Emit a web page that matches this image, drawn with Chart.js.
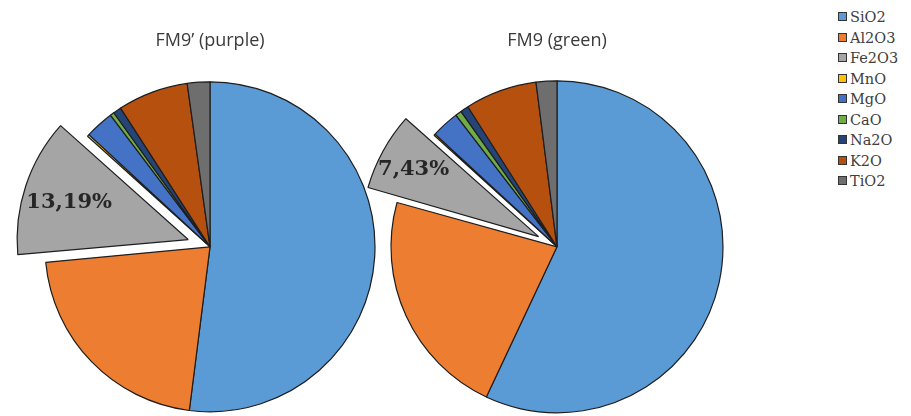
<!DOCTYPE html>
<html>
<head>
<meta charset="utf-8">
<script src="https://cdn.jsdelivr.net/npm/chart.js@4.4.1/dist/chart.umd.min.js"></script>
<style>
  html, body { margin: 0; padding: 0; background: #fff; overflow: hidden; }
  #stage { position: relative; width: 911px; height: 416px; overflow: hidden; }
  .pie-box { position: absolute; top: 0; }
  #legend { position: absolute; left: 838px; top: 7px; margin: 0; padding: 0; list-style: none;
    font-family: "DejaVu Serif", serif; font-size: 14.5px; color: #404040; }
  #legend li { height: 20.5px; line-height: 20.5px; white-space: nowrap; }
  #legend span { display: inline-block; width: 7px; height: 7px; border: 1px solid #333;
    margin-right: 3px; vertical-align: 1px; }
</style>
</head>
<body>
<div id="stage">
  <div class="pie-box" id="boxPurple" style="left:0px;width:420px;height:432px"><canvas id="pie1"></canvas></div>
  <div class="pie-box" id="boxGreen" style="left:357px;width:400px;height:432px"><canvas id="pie2"></canvas></div>
  <ul id="legend"></ul>
</div>
<script>
// oxides (legend order)
const oxides = ['SiO2', 'Al2O3', 'Fe2O3', 'MnO', 'MgO', 'CaO', 'Na2O', 'K2O', 'TiO2'];
// wt%
const fm9Purple = [52.0, 21.5, 13.19, 0.2, 2.8, 0.4, 0.8, 6.9, 2.21];
const fm9Green = [57.0, 22.3, 7.43, 0.15, 2.7, 0.6, 0.8, 7.0, 2.02];
const titles = ['FM9\u2019 (purple)', 'FM9 (green)'];
const colors = ['#5B9BD5', '#ED7D31', '#A5A5A5', '#FFC000', '#4472C4', '#70AD47', '#264478', '#B5500F', '#6E6E6E'];

// label only the exploded Fe2O3 slice
const sliceLabel = {
  id: 'sliceLabel',
  afterDatasetsDraw(chart, args, opts) {
    const arc = chart.getDatasetMeta(0).data[opts.index];
    const mid = (arc.startAngle + arc.endAngle) / 2;
    const shift = (arc.options.offset || 0) / 4;
    const r = shift + arc.outerRadius * opts.factor;
    const ctx = chart.ctx;
    const value = chart.data.datasets[0].data[opts.index];
    ctx.save();
    ctx.font = 'bold 21px "DejaVu Serif"';
    ctx.fillStyle = '#262626';
    ctx.textAlign = 'center';
    ctx.textBaseline = 'middle';
    ctx.fillText(value.toFixed(2).replace('.', ',') + '%', arc.x + Math.cos(mid) * r, arc.y + Math.sin(mid) * r + 2);
    ctx.restore();
  }
};

function makePie(canvasId, title, values, radius, explode, labelFactor) {
  const offsets = values.map((v, i) => i === 2 ? explode : 0);
  return new Chart(document.getElementById(canvasId), {
    type: 'pie',
    data: {
      labels: oxides,
      datasets: [{
        data: values,
        backgroundColor: colors,
        borderColor: '#1e1e1e',
        borderWidth: 1.2,
        offset: offsets,
        hoverOffset: 0
      }]
    },
    options: {
      responsive: true,
      maintainAspectRatio: false,
      animation: false,
      radius: radius,
      layout: { padding: 0 },
      plugins: {
        legend: { display: false },
        tooltip: { enabled: false },
        title: {
          display: true,
          text: title,
          color: '#3a3a3a',
          font: { family: '"Open Sans", sans-serif', size: 18, weight: 'normal' },
          padding: { top: 30, bottom: 10 }
        },
        sliceLabel: { index: 2, factor: labelFactor }
      }
    },
    plugins: [sliceLabel]
  });
}

makePie('pie1', titles[0], fm9Purple, 165, 92, 0.76);
makePie('pie2', titles[1], fm9Green, 166, 84, 0.86);

// html legend
let legendHtml = '';
oxides.forEach((name, i) => {
  legendHtml += `<li><span style="background:${colors[i]}"></span>${name}</li>`;
});
document.getElementById('legend').innerHTML = legendHtml;
</script>
</body>
</html>
